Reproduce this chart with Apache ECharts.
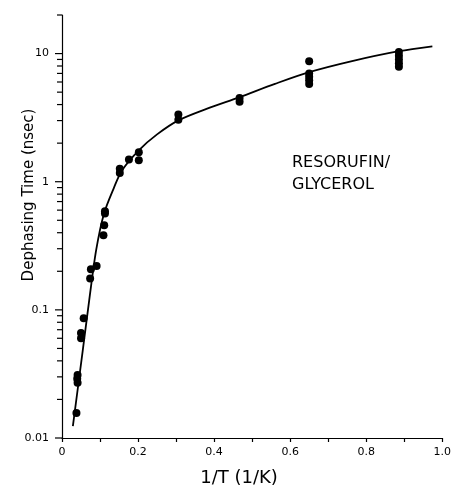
<!DOCTYPE html>
<html>
<head>
<meta charset="utf-8">
<script src="https://cdn.jsdelivr.net/npm/echarts@6/dist/echarts.min.js"></script>
<style>
  html, body { margin: 0; padding: 0; background: #fff; }
  #chart { width: 454px; height: 488px; }
</style>
</head>
<body>
<div id="chart"></div>
<script>
// Measured dephasing times, 1/T in 1/K against time in nsec
const pointX = [0.038, 0.041, 0.040, 0.041, 0.050, 0.050, 0.057, 0.074, 0.076, 0.091,
                0.109, 0.111, 0.113, 0.113, 0.152, 0.152, 0.176, 0.202, 0.202,
                0.306, 0.306, 0.467, 0.467,
                0.650, 0.650, 0.650, 0.650, 0.650,
                0.886, 0.886, 0.886, 0.886, 0.886];
const pointY = [0.0157, 0.031, 0.029, 0.027, 0.066, 0.060, 0.086, 0.176, 0.207, 0.220,
                0.382, 0.457, 0.564, 0.588, 1.17, 1.26, 1.49, 1.47, 1.70,
                3.35, 3.05, 4.5, 4.2,
                8.7, 7.0, 6.6, 6.2, 5.8,
                10.3, 9.6, 9.0, 8.4, 7.9];

// Fitted curve through the data
const fitX = [0.0286, 0.0547, 0.0716, 0.0898, 0.1107, 0.137, 0.158, 0.202, 0.25,
              0.306, 0.38, 0.467, 0.56, 0.65, 0.76, 0.886, 0.974];
const fitY = [0.0124, 0.0485, 0.119, 0.292, 0.567, 0.904, 1.23, 1.76, 2.34,
              3.01, 3.7, 4.57, 5.8, 7.16, 8.7, 10.44, 11.4];

// Axis tick positions
const yMajorTicks = [0.01, 0.1, 1, 10];
const yMinorTicks = [0.02, 0.03, 0.04, 0.05, 0.06, 0.07, 0.08, 0.09,
                     0.2, 0.3, 0.4, 0.5, 0.6, 0.7, 0.8, 0.9,
                     2, 3, 4, 5, 6, 7, 8, 9, 20];
const yTickLabels = { '-2': '0.01', '-1': '0.1', '0': '1', '1': '10' };

const FONT = 'DejaVu Sans';

const chart = echarts.init(document.getElementById('chart'), null, { renderer: 'canvas' });

const tickData = yMajorTicks.map(v => [0, v, 1]).concat(yMinorTicks.map(v => [0, v, 0]));

chart.setOption({
  animation: false,
  backgroundColor: '#fff',
  grid: { left: 62, right: 8, top: 15, bottom: 50, containLabel: false },
  xAxis: {
    type: 'value',
    min: 0, max: 1, interval: 0.1,
    axisLine: { lineStyle: { color: '#000', width: 1.2 } },
    axisTick: { inside: false, length: 4, lineStyle: { color: '#000', width: 1.2 } },
    axisLabel: {
      color: '#000', fontFamily: FONT, fontSize: 11, margin: 9,
      formatter: v => {
        const k = Math.round(v * 10);
        if (k % 2 !== 0) return '';
        return k === 0 ? '0' : (k / 10).toFixed(1);
      }
    },
    splitLine: { show: false }
  },
  yAxis: {
    type: 'log', logBase: 10,
    min: 0.01, max: 20,
    axisLine: { lineStyle: { color: '#000', width: 1.2 } },
    axisTick: { show: false },
    axisLabel: {
      color: '#000', fontFamily: FONT, fontSize: 11, margin: 13,
      formatter: v => {
        const e = Math.log10(v);
        const r = Math.round(e);
        if (Math.abs(e - r) > 1e-6) return '';
        return yTickLabels[String(r)] || '';
      }
    },
    splitLine: { show: false }
  },
  series: [
    {
      type: 'custom',
      clip: false,
      silent: true,
      data: tickData,
      renderItem: (params, api) => {
        const p = api.coord([api.value(0), api.value(1)]);
        const len = api.value(2) ? 7 : 5;
        return {
          type: 'line',
          shape: { x1: p[0] - len, y1: p[1], x2: p[0], y2: p[1] },
          style: { stroke: '#000', lineWidth: 1.2 }
        };
      },
      z: 5
    },
    {
      type: 'line',
      data: fitX.map((x, i) => [x, fitY[i]]),
      smooth: 0.3,
      showSymbol: false,
      silent: true,
      lineStyle: { color: '#000', width: 1.8 },
      z: 3
    },
    {
      type: 'scatter',
      data: pointX.map((x, i) => [x, pointY[i]]),
      symbol: 'circle',
      symbolSize: 8,
      silent: true,
      itemStyle: { color: '#000', opacity: 1 },
      z: 4
    }
  ],
  graphic: [
    {
      type: 'text', x: 29, y: 195, rotation: Math.PI / 2,
      style: { text: 'Dephasing Time (nsec)', fontFamily: FONT, fontSize: 15,
               fill: '#000', align: 'center', verticalAlign: 'middle' }
    },
    {
      type: 'text', x: 239, y: 478,
      style: { text: '1/T (1/K)', fontFamily: FONT, fontSize: 18,
               fill: '#000', align: 'center', verticalAlign: 'middle' }
    },
    {
      type: 'text', x: 292, y: 163,
      style: { text: 'RESORUFIN/', fontFamily: FONT, fontSize: 16,
               fill: '#000', align: 'left', verticalAlign: 'middle' }
    },
    {
      type: 'text', x: 292, y: 185,
      style: { text: 'GLYCEROL', fontFamily: FONT, fontSize: 16,
               fill: '#000', align: 'left', verticalAlign: 'middle' }
    }
  ]
});
</script>
</body>
</html>
